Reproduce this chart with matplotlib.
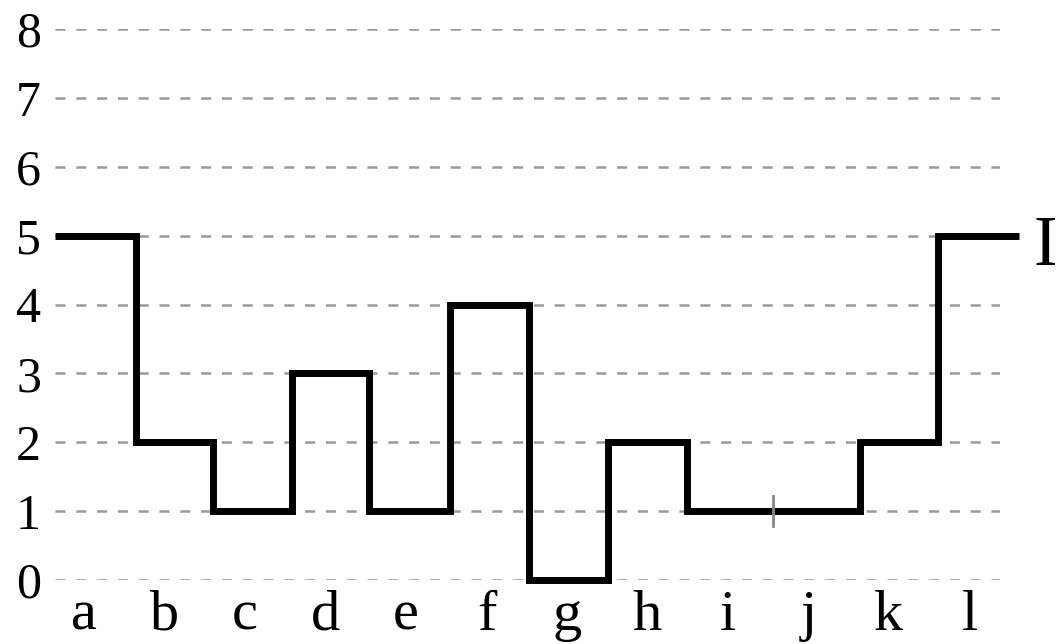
import matplotlib

matplotlib.use("Agg")
import matplotlib.pyplot as plt

categories = ["a", "b", "c", "d", "e", "f", "g", "h", "i", "j", "k", "l"]
values = [5, 2, 1, 3, 1, 4, 0, 2, 1, 1, 2, 5]
# step boundaries, in category units (category i is labelled at x = i)
edges = [-0.36, 0.64, 1.60, 2.58, 3.54, 4.55, 5.53, 6.51, 7.49, 8.56, 9.64, 10.61, 11.61]
y_ticks = [0, 1, 2, 3, 4, 5, 6, 7, 8]
marker_x = 8.56
marker_y = 1
end_label = "I"

plt.rcParams["font.family"] = ["Liberation Serif", "DejaVu Serif"]

W, H = 1057, 644
fig = plt.figure(figsize=(W / 100, H / 100), dpi=100)
ax = fig.add_axes([55 / W, (H - 580) / H, (1000 - 55) / W, (580 - 29) / H])

ax.set_xlim(-0.36, 11.379)
ax.set_ylim(0, 8)

# dash 10px, gap ~10.8px at lw 1.8
for yv in y_ticks:
    ax.axhline(yv, color="#999999", lw=1.8, ls=(0, (4.0, 4.32)), zorder=1)

ax.stairs(values, edges, baseline=None, color="black", lw=5, zorder=3, clip_on=False)

# small gray mark where i meets j
ax.plot([marker_x, marker_x], [marker_y - 0.22, marker_y + 0.22],
        color="#888888", lw=2, zorder=4, clip_on=False)

ax.text(11.80, 4.57, end_label, fontsize=51, ha="left", va="baseline", clip_on=False)

ax.set_xticks(range(len(categories)))
ax.set_xticklabels(categories, fontsize=42)
ax.set_yticks(y_ticks)
ax.set_yticklabels([str(v) for v in y_ticks], fontsize=36)
ax.tick_params(axis="both", length=0)
ax.tick_params(axis="x", pad=7)
ax.tick_params(axis="y", pad=10)
for s in ax.spines.values():
    s.set_visible(False)

fig.savefig("out.png", dpi=100)
plt.close(fig)
